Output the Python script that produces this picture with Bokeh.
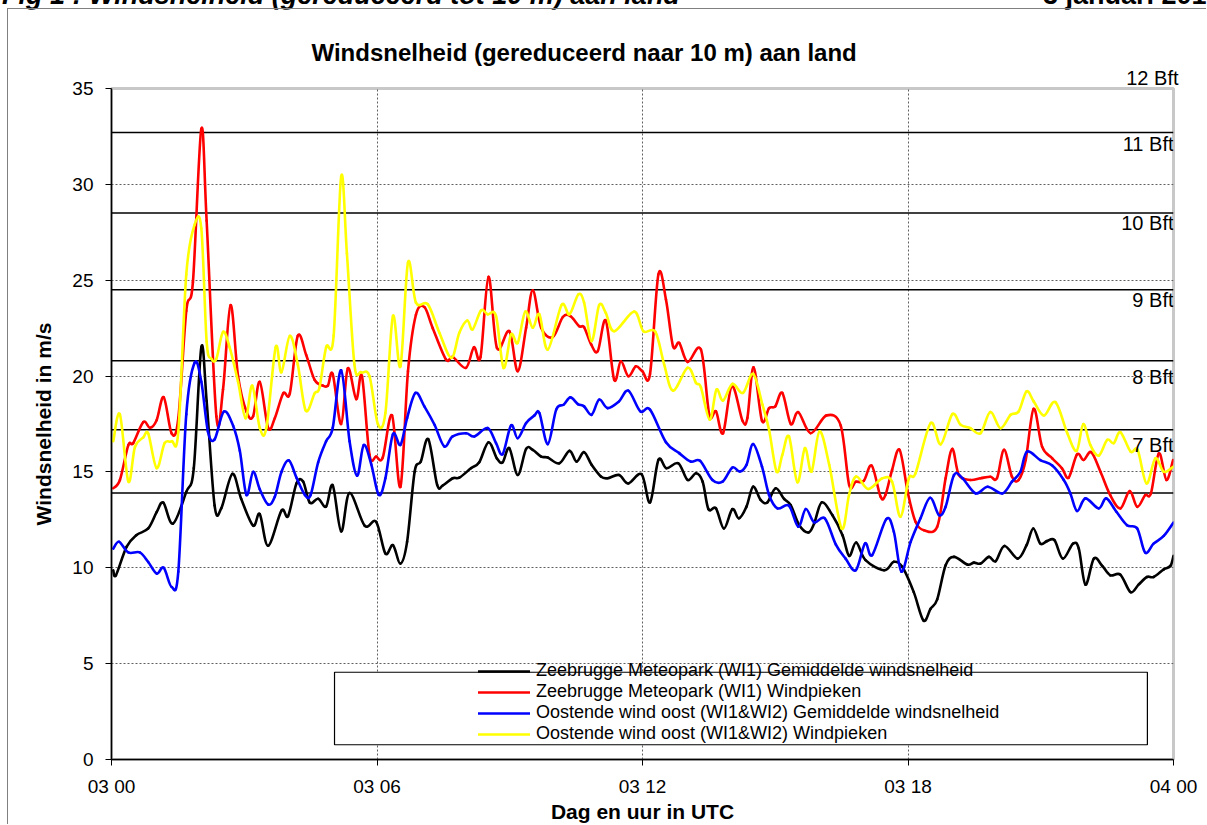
import numpy as np
from bokeh.plotting import figure
from bokeh.layouts import column
from bokeh.models import (Range1d, FixedTicker, LabelSet, ColumnDataSource, Title, Div,
                          Legend, LegendItem, BoxAnnotation)
from bokeh.core.properties import value
from bokeh.embed import file_html
from bokeh.resources import INLINE

# ---------------- data (hours after 03 00 UTC, m/s) ----------------
zb_mean_t = [0.04, 0.10, 0.34, 0.56, 0.83, 1.02, 1.17, 1.39, 1.69, 1.86, 2.03, 2.15, 2.33, 2.48, 2.73, 2.93,
             3.20, 3.35, 3.54, 3.84, 3.99, 4.18, 4.33, 4.48, 4.67, 4.85, 5.00, 5.19, 5.38, 5.72, 5.98, 6.19,
             6.36, 6.53, 6.68, 6.85, 6.99, 7.16, 7.36, 7.49, 7.71, 7.86, 8.13, 8.31, 8.52, 8.71, 8.84, 8.99,
             9.18, 9.37, 9.52, 9.71, 9.86, 10.12, 10.35, 10.51, 10.68, 10.85, 11.06, 11.21, 11.47, 11.68,
             11.98, 12.17, 12.36, 12.54, 12.81, 13.02, 13.21, 13.36, 13.49, 13.66, 13.84, 14.03, 14.18, 14.35,
             14.50, 14.67, 14.82, 15.01, 15.20, 15.35, 15.54, 15.75, 15.88, 16.05, 16.29, 16.52, 16.67, 16.83,
             17.04, 17.46, 17.68, 17.87, 18.13, 18.35, 18.51, 18.66, 18.85, 19.04, 19.34, 19.49, 19.64, 19.83,
             19.98, 20.18, 20.48, 20.68, 20.83, 20.99, 21.14, 21.31, 21.50, 21.73, 21.86, 22.01, 22.20, 22.39,
             22.57, 22.80, 23.03, 23.21, 23.40, 23.55, 23.78, 23.93, 24.00]
zb_mean_v = [9.87, 9.61, 11.09, 11.7, 12.05, 12.9, 13.4, 12.3, 13.96, 15.2, 21.5, 18.7, 13.25, 13.1, 14.9, 13.6,
             12.2, 12.8, 11.15, 12.98, 12.7, 14.4, 14.5, 13.4, 13.6, 13.2, 14.3, 11.9, 13.9, 12.2, 12.4, 10.74,
             11.18, 10.22, 11.35, 15.0, 15.54, 16.7, 14.32, 14.3, 14.67, 14.7, 15.2, 15.5, 16.55, 15.7, 15.5, 16.24,
             14.84, 16.2, 16.15, 15.8, 15.75, 15.45, 16.1, 15.54, 16.03, 15.37, 14.76, 14.67, 14.84, 14.4,
             14.88, 13.41, 15.63, 15.19, 15.45, 14.58, 14.93, 14.49, 13.06, 13.1, 12.05, 13.06, 12.58, 13.19,
             14.23, 13.54, 13.41, 14.15, 13.59, 13.27, 12.23, 11.84, 12.31, 13.41, 12.75, 11.7, 10.62, 11.32,
             10.4, 9.87, 10.31, 10.05, 8.73, 7.25, 7.86, 8.35, 10.13, 10.57, 10.17, 10.27, 10.22, 10.57,
             10.34, 11.14, 10.48, 11.18, 12.05, 11.26, 11.39, 11.44, 10.48, 11.26, 11.0, 9.12, 10.48, 10.1,
             9.61, 9.64, 8.73, 9.12, 9.52, 9.52, 9.92, 10.1, 10.62]

zb_peak_t = [0.04, 0.19, 0.38, 0.49, 0.72, 0.87, 1.02, 1.18, 1.36, 1.51, 1.69, 1.84, 2.03, 2.15, 2.37, 2.52,
             2.69, 2.86, 3.05, 3.20, 3.35, 3.54, 3.69, 3.88, 4.03, 4.21, 4.40, 4.59, 4.78, 4.89, 5.00, 5.19,
             5.34, 5.53, 5.66, 5.83, 5.98, 6.13, 6.34, 6.53, 6.70, 6.88, 7.07, 7.26, 7.56, 7.71, 8.01, 8.19,
             8.34, 8.52, 8.71, 8.99, 9.18, 9.37, 9.52, 9.71, 9.97, 10.20, 10.37, 10.57, 10.68, 10.84, 10.99,
             11.17, 11.36, 11.51, 11.68, 11.85, 12.00, 12.17, 12.36, 12.53, 12.69, 12.83, 13.02, 13.32, 13.51,
             13.66, 13.82, 14.02, 14.26, 14.37, 14.51, 14.70, 14.86, 15.00, 15.16, 15.35, 15.52, 15.80, 16.16,
             16.48, 16.67, 16.82, 17.00, 17.18, 17.38, 17.49, 17.64, 17.81, 18.00, 18.17, 18.36, 18.66, 18.85,
             19.00, 19.15, 19.41, 19.64, 19.86, 20.01, 20.17, 20.35, 20.50, 20.66, 20.84, 21.03, 21.26, 21.48,
             21.63, 21.82, 21.97, 22.14, 22.35, 22.57, 22.80, 23.01, 23.18, 23.36, 23.49, 23.67, 23.84, 23.99]
zb_peak_v = [14.15, 14.58, 16.4, 16.5, 17.6, 17.3, 17.7, 18.9, 17.0, 17.8, 23.4, 24.9, 32.9, 28.1, 17.9, 19.3,
             23.7, 20.0, 18.15, 17.9, 19.7, 17.3, 17.8, 19.1, 19.1, 22.1, 21.1, 19.8, 19.5, 19.5, 20.1, 17.5,
             20.4, 18.8, 20.0, 15.9, 15.8, 15.75, 17.95, 14.23, 20.25, 23.2, 23.6, 22.5, 20.86, 21.0, 20.43, 21.5,
             21.0, 25.17, 21.47, 22.34, 20.25, 22.52, 24.47, 22.52, 22.03, 23.08, 23.13, 22.6, 22.55, 21.65, 21.3,
             22.9, 19.81, 20.77, 19.99, 20.51, 20.25, 20.11, 25.31, 24.0, 21.56, 21.73, 20.74, 21.38, 17.98,
             18.16, 17.02, 19.47, 17.67, 17.81, 20.46, 17.67, 18.33, 18.42, 19.12, 17.5, 18.12, 17.02, 17.95,
             17.42, 14.32, 14.49, 14.53, 15.33, 13.71, 13.8, 15.1, 16.15, 13.88, 12.4, 11.96, 12.14, 14.67,
             16.2, 14.84, 14.58, 14.67, 14.75, 14.67, 16.15, 14.75, 14.58, 15.62, 18.29, 16.32, 15.71, 15.19,
             14.7, 15.92, 15.62, 16.03, 15.01, 13.79, 13.1, 14.0, 13.18, 13.79, 13.88, 15.97, 14.58, 15.62]

os_mean_t = [0.04, 0.17, 0.38, 0.64, 0.83, 1.02, 1.18, 1.36, 1.51, 1.69, 1.88, 2.03, 2.18, 2.33, 2.54, 2.75,
             2.90, 3.05, 3.20, 3.35, 3.54, 3.69, 3.84, 4.01, 4.18, 4.37, 4.50, 4.67, 4.85, 5.00, 5.19, 5.38,
             5.55, 5.70, 5.87, 6.04, 6.19, 6.36, 6.53, 6.68, 6.87, 7.07, 7.30, 7.52, 7.71, 8.01, 8.20, 8.50,
             8.69, 8.84, 9.03, 9.18, 9.37, 9.56, 9.67, 9.86, 10.05, 10.22, 10.37, 10.54, 10.68, 10.85, 11.02,
             11.21, 11.47, 11.68, 11.95, 12.17, 12.53, 12.83, 13.09, 13.30, 13.58, 13.81, 14.03, 14.20, 14.35,
             14.50, 14.70, 14.86, 15.05, 15.31, 15.52, 15.69, 15.88, 16.12, 16.37, 16.59, 16.82, 17.03, 17.19,
             17.51, 17.68, 17.85, 18.06, 18.28, 18.50, 18.70, 18.85, 19.04, 19.23, 19.53, 19.80, 20.13, 20.35,
             20.54, 20.69, 20.99, 21.26, 21.52, 21.67, 21.82, 22.01, 22.31, 22.48, 22.71, 22.95, 23.18, 23.36,
             23.55, 23.78, 24.00]
os_mean_v = [11.0, 11.36, 10.8, 10.8, 10.3, 9.7, 10.0, 9.0, 9.8, 18.0, 20.7, 19.7, 17.1, 16.7, 18.15, 17.4,
             16.1, 13.8, 15.0, 14.1, 13.3, 13.7, 15.0, 15.6, 14.7, 13.8, 13.8, 15.5, 16.6, 17.3, 20.3, 16.6,
             14.8, 16.4, 15.4, 13.8, 14.67, 16.97, 16.41, 17.81, 19.12, 18.42, 17.46, 16.33, 16.85, 17.02, 16.85, 17.29,
             16.5, 15.93, 17.43, 16.76, 17.55, 17.95, 18.07, 16.45, 18.25, 18.51, 18.89, 18.54, 18.42, 17.98, 18.77,
             18.33, 18.68, 19.24, 18.16, 18.25, 16.55, 15.98, 15.54, 15.58, 14.58, 14.49, 15.23, 15.02, 15.37,
             16.45, 15.28, 13.8, 13.1, 13.24, 12.14, 13.06, 12.37, 12.58, 11.21, 10.48, 9.87, 11.27, 10.66,
             12.54, 11.88, 9.8, 11.35, 12.57, 13.65, 12.75, 13.18, 14.84, 14.67, 13.88, 14.23, 13.88, 14.49,
             15.01, 16.06, 15.62, 15.33, 14.58, 13.88, 12.96, 13.62, 13.1, 13.62, 12.92, 12.22, 12.05, 10.79,
             11.26, 11.66, 12.36]

os_peak_t = [0.04, 0.19, 0.38, 0.53, 0.72, 0.83, 1.02, 1.20, 1.36, 1.51, 1.69, 1.88, 2.03, 2.15, 2.26, 2.37,
             2.52, 2.67, 2.86, 3.03, 3.18, 3.35, 3.50, 3.71, 3.84, 4.03, 4.21, 4.39, 4.59, 4.70, 4.85, 5.02,
             5.19, 5.32, 5.49, 5.64, 5.83, 6.02, 6.19, 6.36, 6.53, 6.70, 6.88, 7.15, 7.41, 7.68, 7.86, 8.04,
             8.16, 8.35, 8.50, 8.69, 8.86, 9.03, 9.18, 9.35, 9.52, 9.67, 9.86, 10.17, 10.35, 10.55, 10.68,
             10.85, 11.02, 11.17, 11.36, 11.81, 12.02, 12.29, 12.49, 12.69, 13.02, 13.21, 13.32, 13.52, 13.67,
             13.82, 14.03, 14.27, 14.50, 14.71, 14.86, 15.03, 15.16, 15.31, 15.50, 15.67, 15.82, 16.00, 16.22,
             16.50, 16.67, 16.83, 17.10, 17.42, 17.64, 17.83, 18.02, 18.17, 18.51, 18.74, 19.00, 19.19, 19.41,
             19.64, 19.86, 20.09, 20.32, 20.50, 20.68, 20.84, 21.07, 21.33, 21.60, 21.81, 21.96, 22.12, 22.31,
             22.50, 22.65, 22.80, 23.03, 23.19, 23.39, 23.59, 23.78, 24.00]
os_peak_v = [16.6, 18.0, 14.5, 16.3, 16.8, 17.0, 15.2, 16.5, 16.6, 17.1, 25.3, 27.9, 27.7, 21.8, 20.9, 20.9,
             22.3, 21.5, 19.7, 17.8, 19.5, 17.3, 17.3, 21.5, 20.2, 22.1, 20.6, 18.2, 19.1, 19.4, 21.5, 22.1,
             30.4, 26.4, 20.6, 20.2, 20.0, 17.5, 18.07, 23.13, 20.51, 25.92, 23.83, 23.74, 22.26, 20.95, 22.26, 22.9,
             22.43, 23.42, 23.22, 23.13, 20.43, 22.17, 21.73, 23.36, 22.52, 23.22, 21.38, 23.7, 23.22, 24.26, 23.83,
             21.82, 23.7, 23.3, 22.34, 23.36, 22.34, 22.31, 20.6, 19.24, 20.43, 19.64, 19.41, 17.72, 19.29,
             18.72, 19.59, 19.12, 20.11, 18.51, 17.2, 15.02, 15.89, 16.85, 14.46, 16.24, 15.02, 17.11, 15.37,
             12.05, 13.83, 14.76, 14.11, 14.67, 14.49, 12.66, 14.67, 14.93, 17.54, 16.44, 18.01, 17.46, 17.28,
             17.02, 18.12, 17.28, 17.98, 18.15, 19.2, 18.68, 17.94, 18.64, 17.02, 16.1, 17.49, 16.41, 15.85,
             16.67, 16.5, 17.07, 16.06, 16.15, 14.4, 15.71, 15.01, 15.28]

series_names = ["Zeebrugge Meteopark (WI1) Gemiddelde windsnelheid",
                "Zeebrugge Meteopark (WI1) Windpieken",
                "Oostende wind oost (WI1&WI2) Gemiddelde windsnelheid",
                "Oostende wind oost (WI1&WI2) Windpieken"]
series_colors = ["#000000", "#FF0000", "#0000FF", "#FFFF00"]

x_ticks = [0, 6, 12, 18, 24]
x_tick_labels = ["03 00", "03 06", "03 12", "03 18", "04 00"]
y_ticks = [0, 5, 10, 15, 20, 25, 30, 35]

bft_levels = [13.9, 17.2, 20.8, 24.5, 28.5, 32.7]
bft_labels = ["7 Bft", "8 Bft", "9 Bft", "10 Bft", "11 Bft"]
bft_label_y = [16.43, 19.95, 23.99, 27.99, 32.08]
bft_top_label = "12 Bft"

header_left = "Fig 1 : Windsnelheid (gereduceerd tot 10 m) aan land"
header_right = "3 januari 2018"
title_text = "Windsnelheid (gereduceerd naar 10 m) aan land"
x_label = "Dag en uur in UTC"
y_label = "Windsnelheid in m/s"

FONT = "Liberation Sans"


def smooth_source(xs, ys):
    """Catmull-Rom spline through the read points, as cubic Bezier segments."""
    x = np.asarray(xs, float)
    y = np.asarray(ys, float)
    n = len(x)
    xp = np.concatenate([[x[0]], x, [x[-1]]])
    yp = np.concatenate([[y[0]], y, [y[-1]]])
    cx0 = x[:-1] + (xp[2:n + 1] - xp[0:n - 1]) / 6.0
    cy0 = y[:-1] + (yp[2:n + 1] - yp[0:n - 1]) / 6.0
    cx1 = x[1:] - (xp[3:n + 2] - xp[1:n]) / 6.0
    cy1 = y[1:] - (yp[3:n + 2] - yp[1:n]) / 6.0
    return ColumnDataSource(dict(x0=x[:-1], y0=y[:-1], x1=x[1:], y1=y[1:],
                                 cx0=cx0, cy0=cy0, cx1=cx1, cy1=cy1))


p = figure(width=1199, height=816,
           x_range=Range1d(x_ticks[0], x_ticks[-1]), y_range=Range1d(y_ticks[0], y_ticks[-1]),
           output_backend="svg", toolbar_location=None,
           min_border_left=103, min_border_right=34, min_border_top=79, min_border_bottom=66,
           background_fill_color="white", border_fill_color="white",
           outline_line_color="#c8c8c8", outline_line_width=3, margin=0,
           styles={"margin-left": "7px",
                   "border-left": "1px solid #808080", "border-top": "1px solid #808080"})

# main title (outer) and the "12 Bft" label (nearest the frame)
p.title.text = title_text
p.title.align = "left"
p.title.offset = 200
p.title.standoff = -3
p.title.text_font = FONT
p.title.text_font_size = "24px"
p.title.text_font_style = "bold"
p.title.text_color = "black"
p.add_layout(Title(text=bft_top_label, align="right", offset=-5, standoff=0,
                   text_font=FONT, text_font_size="20px", text_font_style="normal",
                   text_color="black"), "above")

# axes
for ax in (p.xaxis[0], p.yaxis[0]):
    ax.axis_line_color = "black"
    ax.axis_line_width = 1.5
    ax.major_tick_line_color = "black"
    ax.major_tick_in = 0
    ax.major_tick_out = 6
    ax.minor_tick_line_color = None
    ax.major_label_text_font = FONT
    ax.major_label_text_font_size = "19px"
    ax.major_label_text_color = "black"
    ax.axis_label_text_font = FONT
    ax.axis_label_text_font_style = "bold"
    ax.axis_label_text_font_size = "21px"
    ax.axis_label_text_color = "black"

p.xaxis.ticker = FixedTicker(ticks=x_ticks)
p.xaxis.major_label_overrides = {t: l for t, l in zip(x_ticks, x_tick_labels)}
p.xaxis.major_label_standoff = 10
p.xaxis.axis_label = x_label
p.xaxis.axis_label_standoff = 0
p.yaxis.ticker = FixedTicker(ticks=y_ticks)
p.yaxis.major_label_standoff = 12
p.yaxis.axis_label = y_label
p.yaxis.axis_label_standoff = 14

# grid
p.xgrid.ticker = FixedTicker(ticks=x_ticks[1:-1])
p.ygrid.ticker = FixedTicker(ticks=y_ticks[1:-1])
for g in (p.xgrid[0], p.ygrid[0]):
    g.grid_line_color = "#606060"
    g.grid_line_dash = "2 2"
    g.grid_line_width = 1

# Beaufort limits
bft_src = ColumnDataSource(dict(x0=[x_ticks[0]] * len(bft_levels), x1=[x_ticks[-1]] * len(bft_levels),
                                y=bft_levels))
p.segment(x0="x0", y0="y", x1="x1", y1="y", source=bft_src, line_color="black", line_width=1.5)

# series
series = [(zb_mean_t, zb_mean_v), (zb_peak_t, zb_peak_v), (os_mean_t, os_mean_v), (os_peak_t, os_peak_v)]
renderers = []
for (t, v), col in zip(series, series_colors):
    r = p.bezier(x0="x0", y0="y0", x1="x1", y1="y1", cx0="cx0", cy0="cy0", cx1="cx1", cy1="cy1",
                 source=smooth_source(t, v), line_color=col, line_width=2.6, line_cap="round")
    renderers.append(r)

# Bft labels
lab_src = ColumnDataSource(dict(x=[x_ticks[-1]] * len(bft_labels), y=bft_label_y, text=bft_labels))
p.add_layout(LabelSet(x="x", y="y", text="text", source=lab_src, x_offset=0,
                      text_align="right", text_baseline="middle",
                      text_font=value(FONT), text_font_size="20px", text_color="black"))

# legend box + legend
p.add_layout(BoxAnnotation(left=5.04, right=23.41, bottom=0.77, top=4.55,
                           fill_color="white", fill_alpha=1.0, line_color="black", line_width=1.2,
                           line_alpha=1.0))
legend = Legend(items=[LegendItem(label=n, renderers=[r]) for n, r in zip(series_names, renderers)],
                location=(367, 15), padding=0, margin=0, spacing=-3,
                glyph_width=52, glyph_height=18, label_height=18, label_standoff=6,
                label_text_font=FONT, label_text_font_size="18px", label_text_color="black",
                border_line_alpha=0, background_fill_alpha=0)
p.add_layout(legend)

# page header (cut off by the top edge, as in the reference)
header_html = (
    '<div style="position:relative;width:1207px;height:25px;overflow:visible;white-space:nowrap;'
    'font-family:\'Liberation Sans\';font-size:27px;line-height:24px;color:black;">'
    '<span style="position:absolute;left:2px;top:0px;font-style:italic;font-weight:bold;">'
    + header_left + '</span>'
    '<span style="position:absolute;left:1043px;top:0px;font-weight:bold;">'
    + header_right + '</span></div>')
header = Div(text=header_html, width=1207, height=25, margin=(-17, 0, 0, 0),
             styles={"overflow": "visible"})

layout = column(header, p, spacing=0, margin=0)

open("out.html", "w").write(file_html(layout, INLINE))
